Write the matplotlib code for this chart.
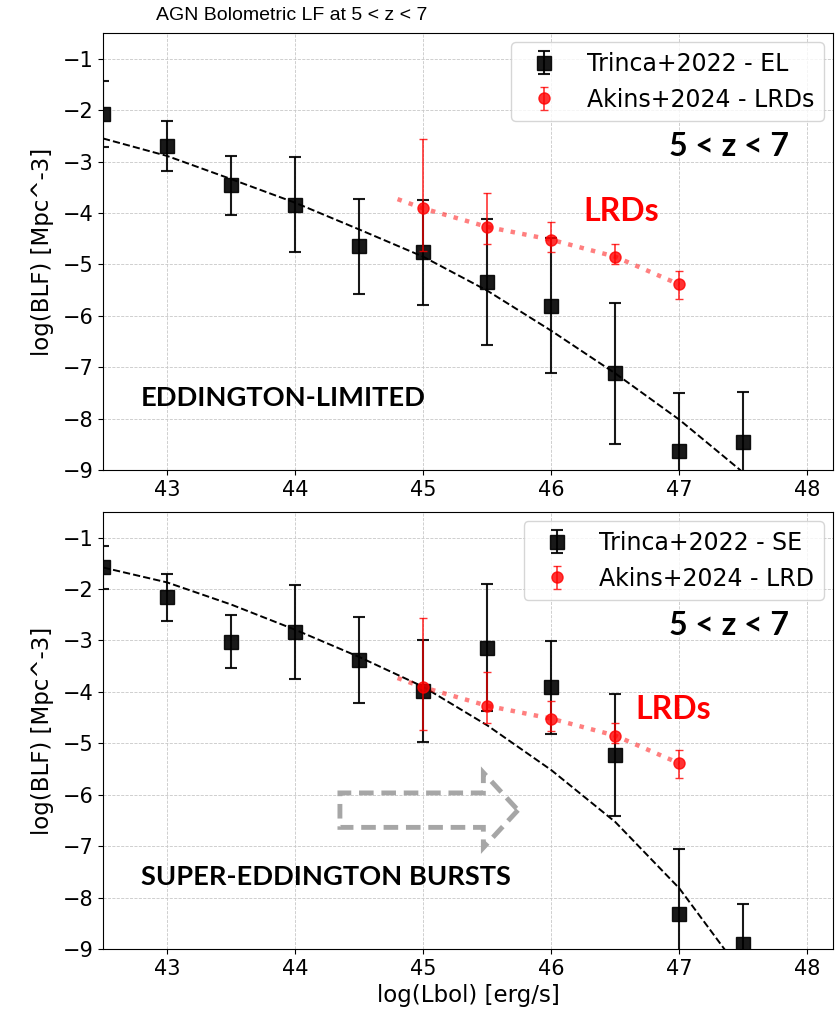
import numpy as np
import matplotlib
matplotlib.use('Agg')
import matplotlib.pyplot as plt
from matplotlib import font_manager
from matplotlib.patches import FancyArrow

# data
lbol = [42.5, 43.0, 43.5, 44.0, 44.5, 45.0, 45.5, 46.0, 46.5, 47.0, 47.5]

el_lf = [-2.08, -2.70, -3.46, -3.84, -4.65, -4.76, -5.34, -5.80, -7.12, -8.62, -8.46]
el_err = [0.64, 0.49, 0.57, 0.92, 0.93, 1.02, 1.22, 1.32, 1.37, 1.12, 0.98]
el_fit = [-2.55, -2.89, -3.34, -3.80, -4.32, -4.85, -5.51, -6.29, -7.12, -8.02, -9.05]

se_lf = [-1.58, -2.16, -3.02, -2.84, -3.38, -3.99, -3.14, -3.91, -5.23, -8.32, -8.91]
se_err = [0.42, 0.46, 0.51, 0.91, 0.84, 0.99, 1.24, 0.90, 1.18, 1.26, 0.79]
se_fit = [-1.58, -1.87, -2.30, -2.79, -3.32, -3.90, -4.65, -5.52, -6.53, -7.82, -9.50]

lrd_x = [45.0, 45.5, 46.0, 46.5, 47.0]
lrd_lf = [-3.91, -4.27, -4.52, -4.85, -5.39]
lrd_lo = [0.83, 0.34, 0.24, 0.15, 0.28]
lrd_hi = [1.35, 0.65, 0.34, 0.24, 0.26]
lrd_line_x = [44.8, 45.0, 45.5, 46.0, 46.5, 47.0]
lrd_line_y = [-3.73, -3.91, -4.27, -4.52, -4.85, -5.39]

available = {f.name for f in font_manager.fontManager.ttflist}
bold_font = 'Lato' if 'Lato' in available else 'DejaVu Sans'

fig = plt.figure(figsize=(8.36, 10.17), dpi=100)
ax_top = fig.add_axes([0.1232, 0.5378, 0.8732, 0.4297])
ax_bot = fig.add_axes([0.1232, 0.0669, 0.8732, 0.4297])


def draw_panel(ax, lf, err, fit, label_bh, label_lrd, regime, lrd_pos):
    ax.errorbar(lbol, lf, yerr=err, fmt='s', color='black', ms=10, alpha=0.9,
                capsize=4, elinewidth=1.5, capthick=1.5, label=label_bh, zorder=3)
    ax.plot(lbol, fit, '--', color='black', lw=1.4, zorder=4)
    ax.plot(lrd_line_x, lrd_line_y, ':', color='red', alpha=0.5, lw=3.2, zorder=4)
    ax.errorbar(lrd_x, lrd_lf, yerr=[lrd_lo, lrd_hi], fmt='o', color='red', ms=8,
                alpha=0.8, capsize=3, elinewidth=1.2, label=label_lrd, zorder=5)
    ax.set_xlim(42.5, 48.2)
    ax.set_ylim(-9, -0.5)
    ax.set_xticks([43, 44, 45, 46, 47, 48])
    ax.set_yticks([-9, -8, -7, -6, -5, -4, -3, -2, -1])
    ax.tick_params(labelsize=15)
    ax.grid(True, ls='--', lw=0.6, color='#c8c8c8')
    ax.set_ylabel('log(BLF) [Mpc^-3]', fontsize=16.5, labelpad=6)
    ax.legend(loc='upper right', fontsize=17, borderaxespad=0.4)
    ax.text(0.775, 0.74, '5 < z < 7', transform=ax.transAxes, fontsize=23,
            fontweight='bold', family=bold_font, va='center', ha='left')
    ax.text(lrd_pos[0], lrd_pos[1], 'LRDs', transform=ax.transAxes, fontsize=23,
            fontweight='bold', family=bold_font, color='red', va='center', ha='left')
    ax.text(0.052, 0.165, regime, transform=ax.transAxes, fontsize=19.6,
            fontweight='bold', family=bold_font, va='center', ha='left')


draw_panel(ax_top, el_lf, el_err, el_fit, 'Trinca+2022 - EL', 'Akins+2024 - LRDs',
           'EDDINGTON-LIMITED', (0.6575, 0.592))
draw_panel(ax_bot, se_lf, se_err, se_fit, 'Trinca+2022 - SE', 'Akins+2024 - LRD',
           'SUPER-EDDINGTON BURSTS', (0.729, 0.5485))
ax_bot.set_xlabel('log(Lbol) [erg/s]', fontsize=16.5)

# outlined dashed arrow
arrow = FancyArrow(44.35, -6.30, 1.39, 0, width=0.67, head_width=1.46, head_length=0.27,
                   length_includes_head=True, fill=False, edgecolor='#a6a6a6', lw=3.5,
                   linestyle=(0, (3, 1.6)), zorder=2)
ax_bot.add_patch(arrow)

fig.text(0.349, 0.985, 'AGN Bolometric LF at 5 < z < 7', fontsize=14,
         family='Liberation Sans', ha='center', va='center')

fig.savefig('out.png', dpi=100)
